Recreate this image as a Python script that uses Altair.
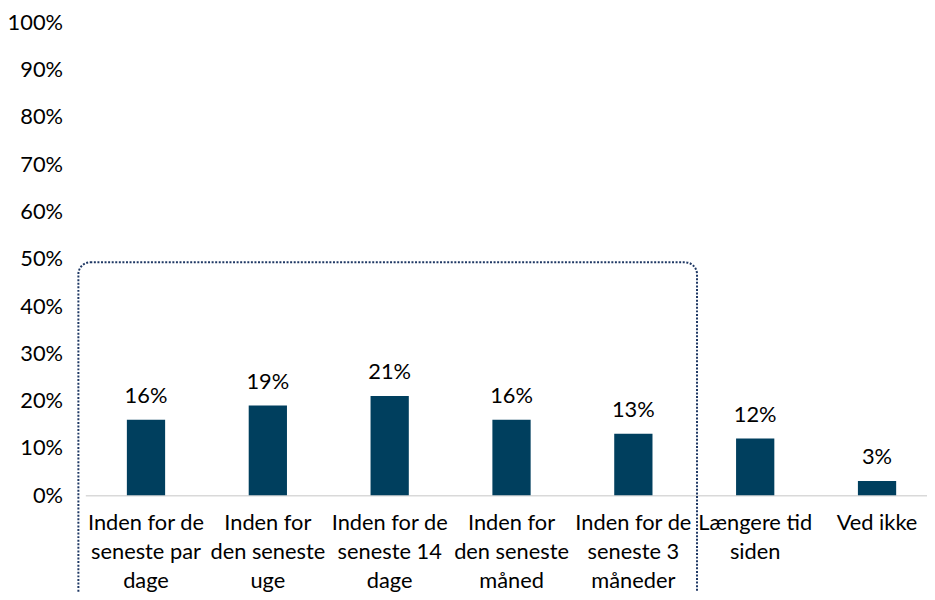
import altair as alt
import pandas as pd

categories = [
    "Inden for de\nseneste par\ndage",
    "Inden for\nden seneste\nuge",
    "Inden for de\nseneste 14\ndage",
    "Inden for\nden seneste\nmåned",
    "Inden for de\nseneste 3\nmåneder",
    "Længere tid\nsiden",
    "Ved ikke",
]
values = [0.16, 0.19, 0.21, 0.16, 0.13, 0.12, 0.03]
value_labels = ["16%", "19%", "21%", "16%", "13%", "12%", "3%"]

df = pd.DataFrame({"cat": categories, "val": values, "lab": value_labels})

FONT = "Lato"
FS = 22
BAR = "#003F5E"
SHIFT = 5.4

x_enc = alt.X(
    "cat:N",
    sort=None,
    title=None,
    scale=alt.Scale(paddingInner=0.686, paddingOuter=0.297, round=False),
    axis=alt.Axis(
        labelAngle=0,
        ticks=False,
        domainColor="#D9D9D9",
        domainWidth=1.5,
        labelExpr="split(datum.label, '\\n')",
        labelFontSize=FS,
        labelFont=FONT,
        labelColor="#000000",
        labelPadding=18,
        labelLineHeight=29,
        labelOverlap=False,
        labelBound=False,
        labelBaseline="top",
        labelOffset=SHIFT,
    ),
)
y_enc = alt.Y(
    "val:Q",
    title=None,
    scale=alt.Scale(domain=[0, 1]),
    axis=alt.Axis(
        values=[i / 10 for i in range(11)],
        format=".0%",
        grid=False,
        domain=False,
        ticks=False,
        labelFontSize=FS,
        labelFont=FONT,
        labelColor="#000000",
        labelPadding=23,
    ),
)

bars = alt.Chart(df).mark_bar(color=BAR, xOffset=SHIFT).encode(x=x_enc, y=y_enc)
text = alt.Chart(df).mark_text(
    dy=-24, dx=SHIFT, baseline="middle", fontSize=FS, font=FONT, color="#000000"
).encode(x=alt.X("cat:N", sort=None), y="val:Q", text="lab:N")

box = alt.Chart(pd.DataFrame({"k": [0]})).mark_rect(
    filled=False,
    fill=None,
    stroke="#1F3864",
    strokeWidth=2,
    strokeDash=[2, 1.6],
    cornerRadius=12,
).encode(
    x=alt.value(-7), x2=alt.value(617), y=alt.value(242), y2=alt.value(590)
)

chart = (
    alt.layer(bars, text, box)
    .properties(
        width=849,
        height=477,
        background="white",
        autosize=alt.AutoSizeParams(type="none"),
        padding={"left": 78, "top": 12, "right": 0, "bottom": 95},
    )
    .configure_view(strokeWidth=0, stroke=None)
)

chart.save("out.html", embed_options={"renderer": "svg", "actions": False})
